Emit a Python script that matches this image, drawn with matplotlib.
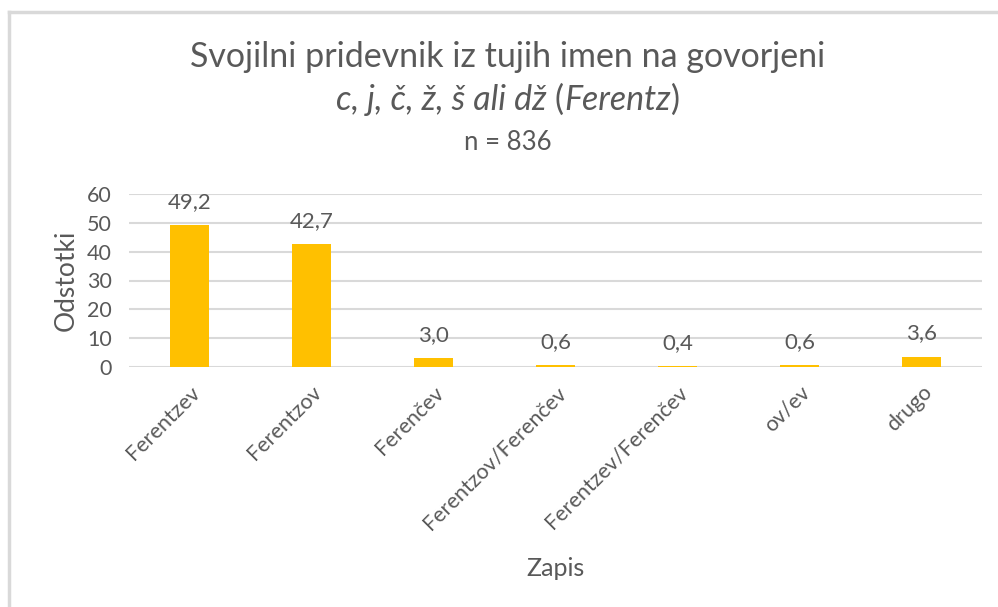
import matplotlib
matplotlib.use('Agg')
from matplotlib import pyplot as plt
from matplotlib.lines import Line2D
from matplotlib.transforms import ScaledTranslation

categories = ['Ferentzev', 'Ferentzov', 'Ferenčev', 'Ferentzov/Ferenčev',
              'Ferentzev/Ferenčev', 'ov/ev', 'drugo']
values = [49.2, 42.7, 3.0, 0.6, 0.4, 0.6, 3.6]
yticks = [0, 10, 20, 30, 40, 50, 60]

txt = '#595959'
plt.rcParams['font.family'] = ['Lato', 'DejaVu Sans']

fig = plt.figure(figsize=(9.98, 6.07), dpi=100)
W, H = 998, 607
ax = fig.add_axes([128.5 / W, 1 - 367 / H, 854 / W, 173 / H])

x = range(len(categories))
ax.bar(x, values, width=0.32, color='#FFC000', zorder=3)
for i, v in zip(x, values):
    ax.annotate(f'{v:.1f}'.replace('.', ','), (i, v), xytext=(0, 9.5),
                textcoords='offset points', ha='center', va='bottom',
                fontsize=16, color=txt)

ax.set_xlim(-0.5, len(categories) - 0.5)
ax.set_ylim(0, 60)
ax.set_yticks(yticks)
ax.set_yticklabels([str(t) for t in yticks], fontsize=15.5, color=txt)
ax.set_xticks(list(x))
ax.set_xticklabels(categories, rotation=45, ha='right', rotation_mode='anchor',
                   fontsize=15.5, color=txt)
shift = ScaledTranslation(4 / 100, 0, fig.dpi_scale_trans)
for lab in ax.get_xticklabels():
    lab.set_transform(lab.get_transform() + shift)
ax.tick_params(axis='both', length=0)
ax.tick_params(axis='y', pad=12)
ax.tick_params(axis='x', pad=11)
ax.grid(axis='y', color='#d9d9d9', linewidth=1.5, zorder=0)
for s in ax.spines.values():
    s.set_visible(False)

ax.set_ylabel('Odstotki', fontsize=19, color=txt, labelpad=6)
fig.text(555.5 / W, 1 - 568 / H, 'Zapis', ha='center', va='center',
         fontsize=18, color=txt)

fig.text(508 / W, 1 - 57 / H, 'Svojilni pridevnik iz tujih imen na govorjeni',
         ha='center', va='center', fontsize=24.5, color=txt)

# second title line: italic pieces mixed with upright brackets
pieces = [('c, j, č, ž, š ali dž ', 'italic'), ('(', 'normal'),
          ('Ferentz', 'italic'), (')', 'normal')]
renderer = fig.canvas.get_renderer()
objs = [fig.text(0, 1 - 100 / H, p, style=st, fontsize=24.5, color=txt,
                 ha='left', va='center') for p, st in pieces]
widths = [o.get_window_extent(renderer).width for o in objs]
xpos = 508 - sum(widths) / 2
for o, w in zip(objs, widths):
    o.set_x(xpos / W)
    xpos += w

fig.text(508 / W, 1 - 143 / H, 'n = 836', ha='center', va='center',
         fontsize=18.5, color=txt)

# chart frame (left and top edges visible)
fig.add_artist(Line2D([9 / W, 9 / W], [0, 1 - 12 / H], color='#d9d9d9',
                      linewidth=2.5, transform=fig.transFigure))
fig.add_artist(Line2D([9 / W, 1], [1 - 12 / H, 1 - 12 / H], color='#d9d9d9',
                      linewidth=2.5, transform=fig.transFigure))

fig.savefig('out.png', dpi=100)
